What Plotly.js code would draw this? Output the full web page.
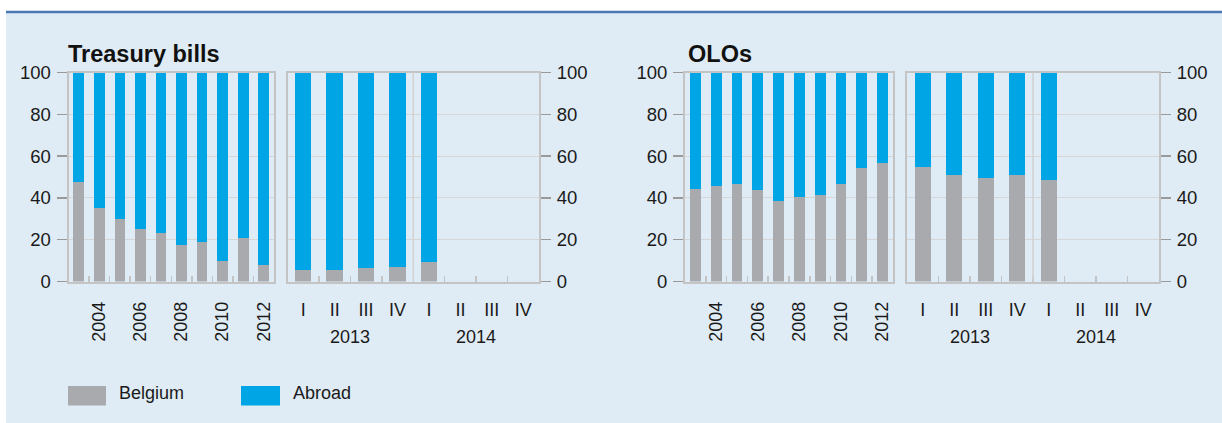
<!DOCTYPE html>
<html>
<head>
<meta charset="utf-8">
<script src="https://cdn.plot.ly/plotly-3.0.1.min.js"></script>
<style>html,body{margin:0;padding:0;background:#fff;}#chart{width:1222px;height:423px;}</style>
</head>
<body>
<div id="chart"></div>
<script>
// ---- data ----
const years = ["2003","2004","2005","2006","2007","2008","2009","2010","2011","2012"];
const yearTickText = ["","2004","","2006","","2008","","2010","","2012"];
const quarterYears = ["2013","2014"];
const quarterLabels = ["I","II","III","IV"];
const quarterCats = ["2013-I","2013-II","2013-III","2013-IV","2014-I","2014-II","2014-III","2014-IV"];
const quarterTickText = ["I","II","III","IV","I","II","III","IV"];

const tbBelgiumAnnual = [47.8, 35.4, 30.1, 24.9, 23.0, 17.7, 18.7, 9.6, 20.6, 8.1];
const tbAbroadAnnual  = [52.2, 64.6, 69.9, 75.1, 77.0, 82.3, 81.3, 90.4, 79.4, 91.9];
const tbBelgiumQuarter = [5.3, 5.6, 6.6, 7.0, 9.1, null, null, null];
const tbAbroadQuarter  = [94.7, 94.4, 93.4, 93.0, 90.9, null, null, null];

const oloBelgiumAnnual = [44.5, 45.5, 46.5, 44.0, 38.3, 40.2, 41.6, 46.5, 54.2, 56.6];
const oloAbroadAnnual  = [55.5, 54.5, 53.5, 56.0, 61.7, 59.8, 58.4, 53.5, 45.8, 43.4];
const oloBelgiumQuarter = [54.8, 51.0, 49.5, 51.0, 48.6, null, null, null];
const oloAbroadQuarter  = [45.2, 49.0, 50.5, 49.0, 51.4, null, null, null];

const panelTitles = ["Treasury bills", "OLOs"];
const seriesNames = ["Belgium", "Abroad"];
const seriesColors = ["#a8aaad", "#00a5e6"];

// ---- geometry helpers ----
const W = 1222, H = 423;
const px = v => v / W;
const py = v => (H - v) / H;

const traces = [];
function addPair(xCats, bel, abr, xa, ya) {
  traces.push({type:'bar', x:xCats, y:bel, name:seriesNames[0], marker:{color:seriesColors[0]}, xaxis:xa, yaxis:ya, showlegend:false});
  traces.push({type:'bar', x:xCats, y:abr, name:seriesNames[1], marker:{color:seriesColors[1]}, xaxis:xa, yaxis:ya, showlegend:false});
}
addPair(years, tbBelgiumAnnual, tbAbroadAnnual, 'x', 'y');
addPair(quarterCats, tbBelgiumQuarter, tbAbroadQuarter, 'x2', 'y2');
addPair(years, oloBelgiumAnnual, oloAbroadAnnual, 'x3', 'y3');
addPair(quarterCats, oloBelgiumQuarter, oloAbroadQuarter, 'x4', 'y4');

const frame = {showline:true, linecolor:'#c4c4c4', linewidth:2, mirror:true};
const yDom = [py(281.5), py(72.5)];
function xAx(dom, cats, text, angle, yId) {
  return Object.assign({
    domain:dom, anchor:yId, type:'category', categoryorder:'array', categoryarray:cats,
    tickmode:'array', tickvals:cats, ticktext:text, tickangle:angle,
    ticks:'inside', tickson:'boundaries', ticklen:6, tickcolor:'#c4c4c4', tickwidth:1.5,
    showgrid:false, zeroline:false, ticklabelstandoff:11,
    tickfont:{size:18, color:'#1a1a1a'}, fixedrange:true
  }, frame);
}
function yAx(side, xId, showLabels) {
  return Object.assign({
    domain:yDom, anchor:xId, range:[0,100], dtick:20, side:side,
    showticklabels:showLabels, ticks:'outside', ticklen:10, tickwidth:1.5, tickcolor:'#9a9a9a',
    showgrid:true, gridcolor:'#d6d6d6', gridwidth:1, zeroline:false,
    tickfont:{size:18.5, color:'#1a1a1a'}, ticklabelstandoff:2, fixedrange:true
  }, frame);
}

const annotations = [];
annotations.push({text:'<b>'+panelTitles[0]+'</b>', xref:'paper', yref:'paper', x:px(66), y:py(54), xanchor:'left', yanchor:'middle', showarrow:false, font:{size:23.5, color:'#111'}});
annotations.push({text:'<b>'+panelTitles[1]+'</b>', xref:'paper', yref:'paper', x:px(686), y:py(54), xanchor:'left', yanchor:'middle', showarrow:false, font:{size:23.5, color:'#111'}});
['x2','x4'].forEach(xr => {
  quarterYears.forEach((yr, i) => {
    annotations.push({text:yr, xref:xr, yref:'paper', x:1.5 + 4*i, y:py(337), xanchor:'center', yanchor:'middle', showarrow:false, font:{size:18, color:'#1a1a1a'}});
  });
});
// legend text
annotations.push({text:seriesNames[0], xref:'paper', yref:'paper', x:px(117), y:py(393), xanchor:'left', yanchor:'middle', showarrow:false, font:{size:18, color:'#1a1a1a'}});
annotations.push({text:seriesNames[1], xref:'paper', yref:'paper', x:px(291), y:py(393), xanchor:'left', yanchor:'middle', showarrow:false, font:{size:18, color:'#1a1a1a'}});

const shapes = [
  {type:'rect', xref:'paper', yref:'paper', x0:px(6), x1:1, y0:0, y1:py(13), fillcolor:'#e0ecf5', line:{width:0}, layer:'below'},
  {type:'line', xref:'paper', yref:'paper', x0:px(6), x1:1, y0:py(12), y1:py(12), line:{color:'#4a78b2', width:2.5}},
  {type:'line', xref:'x2', yref:'y2', x0:3.5, x1:3.5, y0:0, y1:100, line:{color:'#d2d2d2', width:1.5}},
  {type:'line', xref:'x4', yref:'y4', x0:3.5, x1:3.5, y0:0, y1:100, line:{color:'#d2d2d2', width:1.5}},
  // legend swatches
  {type:'rect', xref:'paper', yref:'paper', x0:px(68), x1:px(106), y0:py(405.5), y1:py(386), fillcolor:seriesColors[0], line:{width:0}},
  {type:'rect', xref:'paper', yref:'paper', x0:px(241), x1:px(280), y0:py(405.5), y1:py(386), fillcolor:seriesColors[1], line:{width:0}}
];

const layout = {
  width:W, height:H, margin:{l:0, r:0, t:0, b:0},
  paper_bgcolor:'#ffffff', plot_bgcolor:'#ffffff',
  barmode:'stack', bargap:0.48, showlegend:false, hovermode:false,
  font:{family:'"Liberation Sans", Arial, sans-serif', size:18, color:'#1a1a1a'},
  xaxis:  xAx([px(68.5), px(274)], years, yearTickText, -90, 'y'),
  yaxis:  yAx('left', 'x', true),
  xaxis2: xAx([px(287.5), px(539)], quarterCats, quarterTickText, 0, 'y2'),
  yaxis2: yAx('right', 'x2', true),
  xaxis3: xAx([px(685), px(893)], years, yearTickText, -90, 'y3'),
  yaxis3: yAx('left', 'x3', true),
  xaxis4: xAx([px(907), px(1159)], quarterCats, quarterTickText, 0, 'y4'),
  yaxis4: yAx('right', 'x4', true),
  annotations:annotations, shapes:shapes
};

Plotly.newPlot('chart', traces, layout, {staticPlot:true, displayModeBar:false});
</script>
</body>
</html>
